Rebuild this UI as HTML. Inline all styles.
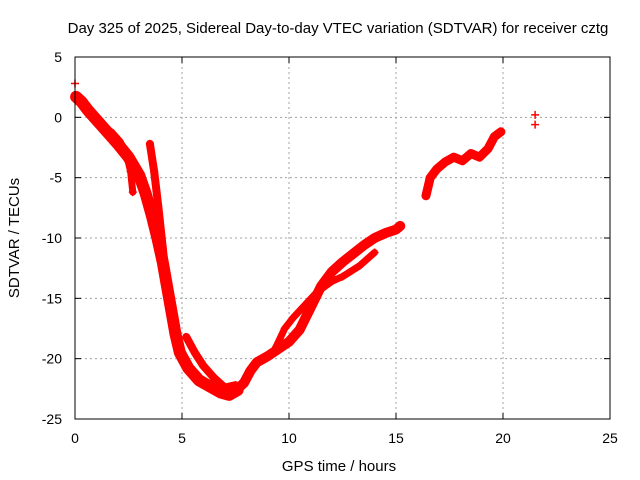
<!DOCTYPE html>
<html><head><meta charset="utf-8"><style>
body{margin:0;background:#fff}
svg{display:block;font-family:"Liberation Sans",sans-serif}
</style></head><body>
<svg width="640" height="480" viewBox="0 0 640 480">
<text x="338" y="33" font-size="15" text-anchor="middle">Day 325 of 2025, Sidereal Day-to-day VTEC variation (SDTVAR) for receiver cztg</text>
<g id="grid"></g>
<g id="axes"></g>
<g id="series"></g>
<rect x="75" y="57" width="535" height="362" fill="none" stroke="#000"/>
<text x="339" y="471" font-size="15" text-anchor="middle">GPS time / hours</text>
<text transform="translate(19,238) rotate(-90)" font-size="15" text-anchor="middle">SDTVAR / TECUs</text>
</svg>
<script>
const xTicks=[0,5,10,15,20,25];
const yTicks=[5,0,-5,-10,-15,-20,-25];
const trackMainH=[0.05,0.3,0.6,1.0,1.5,2.0,2.5,3.0,3.3,3.6,3.85,4.1,4.3,4.5,4.7,4.9,5.3,5.8,6.3,6.8,7.2,7.6];
const trackMainV=[1.7,1.3,0.6,-0.2,-1.2,-2.2,-3.3,-4.8,-6.3,-8.2,-10,-12,-14,-16,-18,-19.5,-20.8,-21.8,-22.3,-22.8,-23,-22.6];
const trackLeftH=[1.7,2.1,2.4,2.6,2.7];
const trackLeftV=[-1.2,-2.0,-3.0,-4.5,-6.2];
const trackRightH=[3.5,3.7,3.9,4.1,4.3];
const trackRightV=[-2.2,-4.5,-7.5,-10.8,-14];
const trackSecondH=[5.2,5.6,6.0,6.5,7.0,7.5];
const trackSecondV=[-18.2,-19.5,-20.6,-21.6,-22.4,-22.2];
const trackUpH=[7.6,7.9,8.2,8.5,9.0,9.5,10.0,10.5,11.0,11.5,12.0,12.5,13.0,13.5,14.0,14.5,15.0,15.2];
const trackUpV=[-22.5,-22,-21,-20.3,-19.8,-19.2,-18.6,-17.6,-15.8,-14,-12.8,-12,-11.3,-10.6,-10,-9.6,-9.3,-9];
const trackUp2H=[9.4,9.8,10.2,11.3,12.0,12.5,13.3,14.0];
const trackUp2V=[-19,-17.5,-16.6,-14.5,-13.6,-13.2,-12.3,-11.2];
const trackLateH=[16.4,16.6,16.9,17.3,17.7,18.1,18.5,18.9,19.3,19.6,19.9];
const trackLateV=[-6.5,-5,-4.3,-3.7,-3.3,-3.6,-3.0,-3.3,-2.6,-1.6,-1.2];
const isoH=[21.5,21.5,0.0];
const isoV=[0.2,-0.6,2.8];
const NS='http://www.w3.org/2000/svg';
const sx=h=>75+h*535/25;
const sy=v=>57+(5-v)*362/30;
const grid=document.getElementById('grid'),axes=document.getElementById('axes'),ser=document.getElementById('series');
function mk(tag,attrs,parent){const e=document.createElementNS(NS,tag);for(const k in attrs)e.setAttribute(k,attrs[k]);parent.appendChild(e);return e;}
xTicks.forEach(t=>{
  if(t>0&&t<25){const g=mk('line',{x1:sx(t),x2:sx(t),y1:57,y2:419,stroke:'#a0a0a0','stroke-dasharray':'2,3'},grid);
  
  }
  mk('line',{x1:sx(t),x2:sx(t),y1:419,y2:413,stroke:'#000'},axes);
  mk('line',{x1:sx(t),x2:sx(t),y1:57,y2:63,stroke:'#000'},axes);
  const l=mk('text',{x:sx(t),y:443,'font-size':14,'text-anchor':'middle'},axes);l.textContent=t;
  
  
});
yTicks.forEach(t=>{
  if(t<5&&t>-25){const g=mk('line',{x1:75,x2:610,y1:sy(t),y2:sy(t),stroke:'#a0a0a0','stroke-dasharray':'2,3'},grid);
  
  }
  mk('line',{x1:75,x2:81,y1:sy(t),y2:sy(t),stroke:'#000'},axes);
  mk('line',{x1:604,x2:610,y1:sy(t),y2:sy(t),stroke:'#000'},axes);
  const l=mk('text',{x:62,y:sy(t)+5,'font-size':14,'text-anchor':'end'},axes);l.textContent=t;
  
  
});
function track(H,V,w,name){
  const pts=H.map((h,i)=>sx(h)+','+sy(V[i])).join(' ');
  if(H.length>1&&w>0){const p=mk('polyline',{points:pts,fill:'none',stroke:'#f00','stroke-width':w,'stroke-linejoin':'round','stroke-linecap':'round'},ser);
  
  }
  H.forEach((h,i)=>{const x=sx(h),y=sy(V[i]);
    const m=mk('path',{d:`M${x-4},${y}H${x+4}M${x},${y-4}V${y+4}`,stroke:'#f00','stroke-width':1.5},ser);
    
    });
}
track(trackMainH,trackMainV,12,'main-track');
track(trackLeftH,trackLeftV,7,'left-branch');
track(trackRightH,trackRightV,8,'right-branch');
track(trackSecondH,trackSecondV,8,'second-track');
track(trackUpH,trackUpV,10,'rising-track');
track(trackUp2H,trackUp2V,7,'rising-track-2');
track(trackLateH,trackLateV,9,'late-track');
track(isoH,isoV,0,'isolated-points');
</script>
</body></html>
